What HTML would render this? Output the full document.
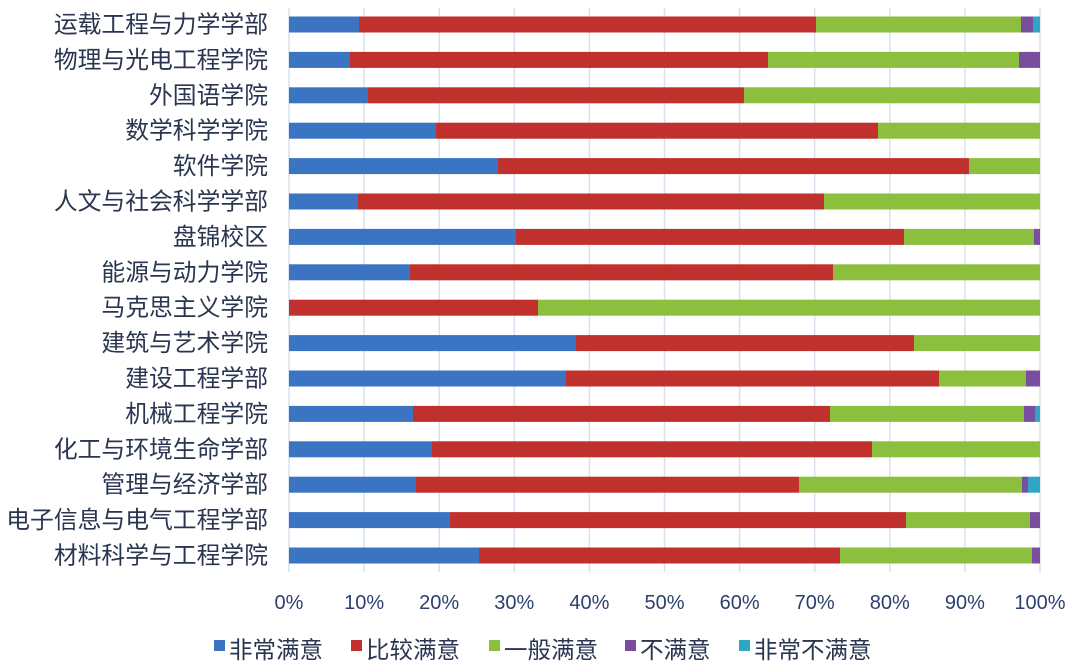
<!DOCTYPE html>
<html><head><meta charset="utf-8"><style>
body{margin:0;background:#fff;width:1080px;height:667px;overflow:hidden}
text{font-family:"Liberation Sans","Noto Sans CJK SC",sans-serif}
</style></head><body>
<svg width="1080" height="667" xmlns="http://www.w3.org/2000/svg">
<g stroke="#d9e1ee" stroke-width="1.5" id="grid"></g>
<g id="bars"></g>
<g id="labels" font-size="23.8" fill="#2a3550" text-anchor="end"></g>
<g id="ticks" font-size="20" fill="#2c3f6e" text-anchor="middle"></g>
<g font-size="23.5" fill="#2a3550">
<rect x="214" y="640" width="11" height="11" fill="#3a74c2"/><text x="229" y="658">非常满意</text>
<rect x="351" y="640" width="11" height="11" fill="#c0302c"/><text x="366" y="658">比较满意</text>
<rect x="489" y="640" width="11" height="11" fill="#8dbf3e"/><text x="504" y="658">一般满意</text>
<rect x="625" y="640" width="11" height="11" fill="#7a4e9e"/><text x="640" y="658">不满意</text>
<rect x="739" y="640" width="11" height="11" fill="#2ea6c6"/><text x="754" y="658">非常不满意</text>
</g>
</svg>
<script>
const ns="http://www.w3.org/2000/svg";
const names=["运载工程与力学学部","物理与光电工程学院","外国语学院","数学科学学院","软件学院","人文与社会科学学部","盘锦校区","能源与动力学院","马克思主义学院","建筑与艺术学院","建设工程学部","机械工程学院","化工与环境生命学部","管理与经济学部","电子信息与电气工程学部","材料科学与工程学院"];
const ends=[[359,816,1021,1033,1040],[350,768,1019,1040,1040],[368,744,1040,1040,1040],[436,878,1040,1040,1040],[498,969,1040,1040,1040],[358,824,1040,1040,1040],[516,904,1034,1040,1040],[410,833,1040,1040,1040],[289,538,1040,1040,1040],[576,914,1040,1040,1040],[566,939,1026,1040,1040],[413,830,1024,1035,1040],[432,872,1040,1040,1040],[416,799,1022,1028,1040],[450,906,1030,1040,1040],[479,840,1032,1040,1040]];
const cols=["#3a74c2","#c0302c","#8dbf3e","#7a4e9e","#2ea6c6"];
function el(t,a,p,txt){const e=document.createElementNS(ns,t);for(const k in a)e.setAttribute(k,a[k]);if(txt)e.textContent=txt;document.getElementById(p).appendChild(e);}
for(let i=0;i<=10;i++){const x=289+i*75.1;el("line",{x1:x,y1:8,x2:x,y2:572},"grid");el("text",{x:x,y:609},"ticks",(i*10)+"%");}
names.forEach((n,i)=>{const cy=24.5+i*35.4;let s=289;ends[i].forEach((e,j)=>{if(e>s)el("rect",{x:s,y:cy-8,width:e-s,height:16,fill:cols[j]},"bars");s=Math.max(s,e);});el("text",{x:268,y:cy+8},"labels",n);});
</script>
</body></html>
